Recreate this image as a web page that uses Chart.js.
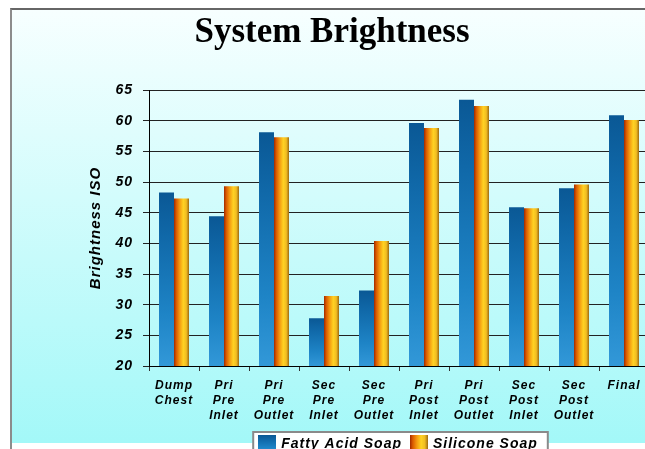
<!DOCTYPE html>
<html>
<head>
<meta charset="utf-8">
<script src="https://cdn.jsdelivr.net/npm/chart.js@4/dist/chart.umd.min.js"></script>
<style>
  html, body { margin: 0; padding: 0; background: #fff; overflow: hidden; width: 645px; height: 449px; }
  #frame {
    position: absolute; left: 10px; top: 8px; width: 700px; height: 460px;
    border-top: 2px solid #666; border-left: 2px solid #8c8c8c;
    background: linear-gradient(to bottom, #f7ffff 0px, #a3f8f8 433px, #ffffff 433px);
  }
  #chart { position: absolute; left: 0; top: 0; }
</style>
</head>
<body>
<div id="frame"></div>
<canvas id="chart" width="660" height="470"></canvas>
<script>
const categories = [
  ['Dump', 'Chest'], ['Pri', 'Pre', 'Inlet'], ['Pri', 'Pre', 'Outlet'],
  ['Sec', 'Pre', 'Inlet'], ['Sec', 'Pre', 'Outlet'], ['Pri', 'Post', 'Inlet'],
  ['Pri', 'Post', 'Outlet'], ['Sec', 'Post', 'Inlet'], ['Sec', 'Post', 'Outlet'], ['Final']
];
const fattyAcidSoap = [48.3, 44.4, 58.1, 27.8, 32.3, 59.6, 63.4, 45.9, 49.0, 60.9];
const siliconeSoap = [47.3, 49.3, 57.3, 31.4, 40.4, 58.8, 62.4, 45.7, 49.6, 60.1];
const seriesNames = ['Fatty Acid Soap', 'Silicone Soap'];
const yMin = 20, yMax = 65, yStep = 5;

const blueStops = [[0, '#0a5895'], [0.25, '#1068a8'], [0.7, '#1e84c6'], [1, '#3298d8']];
const orangeStops = [[0, '#a02a00'], [0.15, '#da5a00'], [0.38, '#f49a10'], [0.62, '#ffd223'], [0.82, '#f1bd22'], [1, '#9c6a12']];

function addStops(g, stops) {
  stops.forEach(([o, c]) => g.addColorStop(o, c));
  return g;
}

function blueFill(ctx) {
  const { x, y } = ctx.chart.scales;
  if (ctx.type !== 'data' || !x || !y) return '#1a78b8';
  const top = y.getPixelForValue(ctx.raw);
  return addStops(ctx.chart.ctx.createLinearGradient(0, top, 0, y.bottom), blueStops);
}

function orangeFill(ctx) {
  const { x, y } = ctx.chart.scales;
  if (ctx.type !== 'data' || !x || !y) return '#f5a010';
  const cx = x.getPixelForValue(ctx.dataIndex);
  const w = x.width / categories.length * 0.3;
  return addStops(ctx.chart.ctx.createLinearGradient(cx, 0, cx + w, 0), orangeStops);
}

function swatch(stops, vertical) {
  const c = document.createElement('canvas');
  c.width = 18; c.height = 18;
  const cx = c.getContext('2d');
  cx.fillStyle = addStops(vertical ? cx.createLinearGradient(0, 0, 0, 18) : cx.createLinearGradient(0, 0, 18, 0), stops);
  cx.fillRect(0, 0, 18, 18);
  return c;
}
const swatches = [swatch(blueStops, true), swatch(orangeStops, false)];

const labelFont = { family: "'Liberation Sans', Arial, sans-serif", weight: 'bold', style: 'italic' };

// letter spacing for the axis/legend text, none for the title; white box behind legend
const textTweaks = {
  id: 'textTweaks',
  beforeUpdate(chart) { chart.ctx.letterSpacing = '1px'; },
  beforeDraw(chart) {
    const c = chart.ctx;
    c.letterSpacing = '1px';
    const t = chart.titleBlock;
    if (t && !t._flat) {
      const draw = t.draw.bind(t);
      t.draw = (area) => { c.save(); c.letterSpacing = '0px'; draw(area); c.restore(); };
      t._flat = true;
    }
    const boxes = chart.legend.legendHitBoxes;
    if (boxes && boxes.length) {
      const first = boxes[0], last = boxes[boxes.length - 1];
      const left = first.left - 7, right = last.left + last.width + 10, top = first.top - 5;
      c.save();
      c.fillStyle = '#fff';
      c.strokeStyle = '#8a8a8a';
      c.lineWidth = 2;
      c.fillRect(left, top, right - left, chart.height - top + 5);
      c.strokeRect(left, top, right - left, chart.height - top + 5);
      c.restore();
    }
  }
};

new Chart(document.getElementById('chart'), {
  type: 'bar',
  data: {
    labels: categories,
    datasets: [
      { label: seriesNames[0], data: fattyAcidSoap, backgroundColor: blueFill, borderWidth: 0 },
      { label: seriesNames[1], data: siliconeSoap, backgroundColor: orangeFill, borderWidth: 0 }
    ]
  },
  options: {
    responsive: false,
    animation: false,
    categoryPercentage: 0.6,
    barPercentage: 1.0,
    layout: { padding: { left: 15, right: 11, top: 0, bottom: 9 } },
    plugins: {
      tooltip: { enabled: false },
      title: {
        display: true,
        text: 'System Brightness',
        color: '#000',
        font: { family: "'Liberation Serif', 'Times New Roman', serif", size: 35, weight: 'bold', lineHeight: 1.2 },
        padding: { top: 12, bottom: 36 }
      },
      legend: {
        position: 'bottom',
        fullSize: false,
        labels: {
          usePointStyle: true,
          color: '#000',
          padding: 10,
          font: { ...labelFont, size: 14 },
          generateLabels: (chart) => chart.data.datasets.map((ds, i) => ({
            text: ds.label, pointStyle: swatches[i], fillStyle: 'transparent',
            strokeStyle: 'transparent', lineWidth: 0, datasetIndex: i, hidden: false, fontColor: '#000'
          }))
        }
      }
    },
    scales: {
      x: {
        afterFit(scale) { scale.height = 61; },
        grid: { drawOnChartArea: false, tickLength: 5, color: '#333' },
        border: { color: '#000', width: 1 },
        ticks: { color: '#000', padding: 7, maxRotation: 0, autoSkip: false, font: { ...labelFont, size: 12, lineHeight: 1.25 } }
      },
      y: {
        min: yMin,
        max: yMax,
        afterFit(scale) { scale.width = 134; },
        grid: { color: '#222', tickLength: 6 },
        border: { color: '#000', width: 1 },
        ticks: { stepSize: yStep, color: '#000', padding: 10, font: { ...labelFont, size: 14 } },
        title: {
          display: true,
          text: 'Brightness ISO',
          color: '#000',
          padding: { top: 72, bottom: 4 },
          font: { ...labelFont, size: 15, lineHeight: 1.2 }
        }
      }
    }
  },
  plugins: [textTweaks]
});
</script>
</body>
</html>
